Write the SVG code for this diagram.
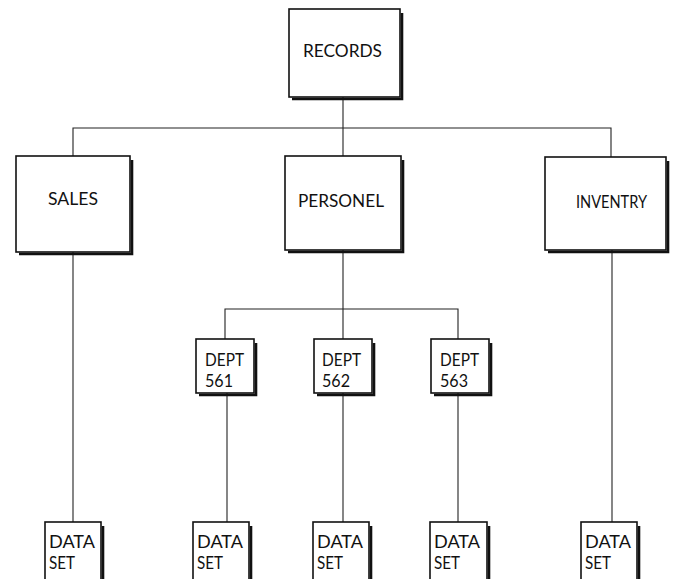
<svg xmlns="http://www.w3.org/2000/svg" width="674" height="579" viewBox="0 0 674 579">
  <style>
    .box { fill: #fff; stroke: #111; stroke-width: 1.6; }
    .shade { fill: none; stroke: #111; stroke-width: 2.6; }
    .link { fill: none; stroke: #222; stroke-width: 1.1; }
    .lbl { font-family: Lato, "Liberation Sans", "DejaVu Sans", sans-serif; font-weight: 400; font-size: 16.5px; fill: #111; }
    .sm { font-size: 18px; }
  </style>
  <rect width="674" height="579" fill="#fff"/>

  <!-- connectors -->
  <g id="connectors">
    <path class="link" d="M343 97 V156"/>
    <path class="link" d="M73 156 V128 H611 V157"/>
    <path class="link" d="M73 252 V522"/>
    <path class="link" d="M343 250 V339"/>
    <path class="link" d="M225 339 V309 H458 V339"/>
    <path class="link" d="M227 393 V522"/>
    <path class="link" d="M343 393 V522"/>
    <path class="link" d="M458 393 V522"/>
    <path class="link" d="M612 250 V522"/>
  </g>

  <!-- top level -->
  <g id="records">
    <rect class="box" x="289" y="9" width="111" height="88"/>
    <path class="shade" d="M402 13 V99 H292"/>
    <text class="lbl" x="303" y="57" textLength="79" lengthAdjust="spacingAndGlyphs">RECORDS</text>
  </g>

  <!-- second level -->
  <g id="sales">
    <rect class="box" x="16" y="156" width="114" height="96"/>
    <path class="shade" d="M132 160 V254 H19"/>
    <text class="lbl" x="48" y="205" textLength="50" lengthAdjust="spacingAndGlyphs">SALES</text>
  </g>
  <g id="personel">
    <rect class="box" x="285" y="156" width="116" height="94"/>
    <path class="shade" d="M403 160 V252 H288"/>
    <text class="lbl" x="298" y="207" textLength="86" lengthAdjust="spacingAndGlyphs">PERSONEL</text>
  </g>
  <g id="inventry">
    <rect class="box" x="545" y="157" width="121" height="93"/>
    <path class="shade" d="M668 161 V252 H548"/>
    <text class="lbl" x="576" y="208" textLength="71" lengthAdjust="spacingAndGlyphs">INVENTRY</text>
  </g>

  <!-- departments -->
  <g id="dept561">
    <rect class="box" x="196" y="339" width="58" height="54"/>
    <path class="shade" d="M256 343 V395 H199"/>
    <text class="lbl sm" x="205" y="366" textLength="39" lengthAdjust="spacingAndGlyphs">DEPT</text>
    <text class="lbl sm" x="205" y="387" textLength="28" lengthAdjust="spacingAndGlyphs">561</text>
  </g>
  <g id="dept562">
    <rect class="box" x="314" y="339" width="58" height="54"/>
    <path class="shade" d="M374 343 V395 H317"/>
    <text class="lbl sm" x="322" y="366" textLength="39" lengthAdjust="spacingAndGlyphs">DEPT</text>
    <text class="lbl sm" x="322" y="387" textLength="28" lengthAdjust="spacingAndGlyphs">562</text>
  </g>
  <g id="dept563">
    <rect class="box" x="431" y="339" width="58" height="54"/>
    <path class="shade" d="M491 343 V395 H434"/>
    <text class="lbl sm" x="440" y="366" textLength="39" lengthAdjust="spacingAndGlyphs">DEPT</text>
    <text class="lbl sm" x="440" y="387" textLength="28" lengthAdjust="spacingAndGlyphs">563</text>
  </g>

  <!-- data sets (run off the bottom edge) -->
  <g id="dataset-sales">
    <rect class="box" x="45" y="522" width="56" height="70"/>
    <path class="shade" d="M103 526 V592"/>
    <text class="lbl sm" x="49" y="548" textLength="46" lengthAdjust="spacingAndGlyphs">DATA</text>
    <text class="lbl sm" x="49" y="569" textLength="26" lengthAdjust="spacingAndGlyphs">SET</text>
  </g>
  <g id="dataset-561">
    <rect class="box" x="193" y="522" width="56" height="70"/>
    <path class="shade" d="M251 526 V592"/>
    <text class="lbl sm" x="197" y="548" textLength="46" lengthAdjust="spacingAndGlyphs">DATA</text>
    <text class="lbl sm" x="197" y="569" textLength="26" lengthAdjust="spacingAndGlyphs">SET</text>
  </g>
  <g id="dataset-562">
    <rect class="box" x="313" y="522" width="56" height="70"/>
    <path class="shade" d="M371 526 V592"/>
    <text class="lbl sm" x="317" y="548" textLength="46" lengthAdjust="spacingAndGlyphs">DATA</text>
    <text class="lbl sm" x="317" y="569" textLength="26" lengthAdjust="spacingAndGlyphs">SET</text>
  </g>
  <g id="dataset-563">
    <rect class="box" x="430" y="522" width="57" height="70"/>
    <path class="shade" d="M489 526 V592"/>
    <text class="lbl sm" x="434" y="548" textLength="46" lengthAdjust="spacingAndGlyphs">DATA</text>
    <text class="lbl sm" x="434" y="569" textLength="26" lengthAdjust="spacingAndGlyphs">SET</text>
  </g>
  <g id="dataset-inventry">
    <rect class="box" x="581" y="522" width="56" height="70"/>
    <path class="shade" d="M639 526 V592"/>
    <text class="lbl sm" x="585" y="548" textLength="46" lengthAdjust="spacingAndGlyphs">DATA</text>
    <text class="lbl sm" x="585" y="569" textLength="26" lengthAdjust="spacingAndGlyphs">SET</text>
  </g>
</svg>
